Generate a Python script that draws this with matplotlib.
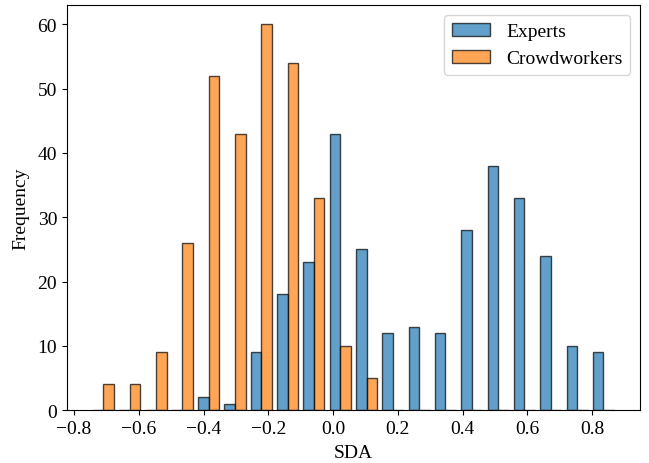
import numpy as np
import matplotlib.pyplot as plt

plt.rcParams['font.family'] = ['Liberation Serif', 'DejaVu Serif']
plt.rcParams['font.size'] = 14

# 20 equal bins over the SDA range
edges = np.linspace(-0.75, 0.875, 21)
centers = 0.5 * (edges[:-1] + edges[1:])

# counts per bin
experts = [0, 0, 0, 0, 2, 1, 9, 18, 23, 43, 25, 12, 13, 12, 28, 38, 33, 24, 10, 9]
crowdworkers = [4, 4, 9, 26, 52, 43, 60, 54, 33, 10, 5, 0, 0, 0, 0, 0, 0, 0, 0, 0]

fig = plt.figure(figsize=(6.49, 4.64), dpi=100)
plt.subplots_adjust(left=0.103, right=0.986, top=0.987, bottom=0.114)

plt.hist([centers, centers], bins=edges, weights=[experts, crowdworkers],
         label=['Experts', 'Crowdworkers'], alpha=0.7, edgecolor='black')
plt.xlabel('SDA', labelpad=5)
plt.ylabel('Frequency', labelpad=6)
plt.legend(loc='upper right')

plt.savefig('out.png')
